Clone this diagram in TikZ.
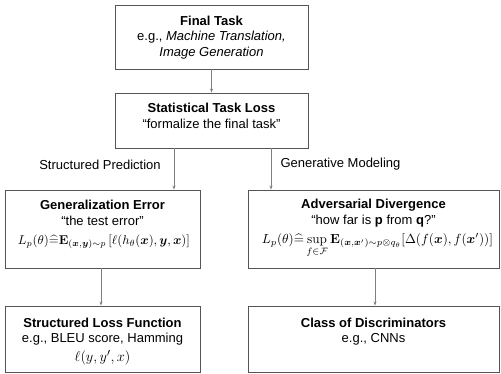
\documentclass[tikz,border=0pt]{standalone}
\usepackage{amsmath,amssymb,bm}
\usepackage[no-math]{fontspec}
\setmainfont{Liberation Sans}
\usetikzlibrary{arrows.meta}
\definecolor{boxline}{HTML}{555555}
\definecolor{arrline}{HTML}{808080}
\tikzset{
  box/.style={draw=boxline, line width=0.9pt, minimum width=#1, inner sep=0pt},
  arr/.style={draw=arrline, line width=0.6pt, -{Stealth[length=4pt,width=3pt]}},
  txt/.style={font=\fontsize{13}{15}\selectfont, inner sep=0pt, anchor=center},
  ttl/.style={font=\fontsize{13}{15}\selectfont\bfseries, inner sep=0pt, anchor=center},
  mth/.style={inner sep=0pt, anchor=center},
}
\begin{document}
\begin{tikzpicture}[x=1pt,y=-1pt]
\useasboundingbox (0,0) rectangle (501,373);
% boxes
\node[box=193pt, minimum height=64pt] (ft) at (211.5,37) {};
\node[box=193pt, minimum height=55pt] (stl) at (211.5,120.5) {};
\node[box=195pt, minimum height=78pt] (ge) at (102.5,229) {};
\node[box=251pt, minimum height=78pt] (ad) at (373.5,229) {};
\node[box=195pt, minimum height=66pt] (slf) at (102.5,339) {};
\node[box=251pt, minimum height=66pt] (cod) at (373.5,339) {};
% texts
\node[ttl] (ft1) at (211.5,21) {Final Task};
\node[txt] (ft2) at (211.5,37) {e.g., \textit{Machine Translation,}};
\node[txt] (ft3) at (211.5,53) {\textit{Image Generation}};
\node[ttl] (stl1) at (211.5,108) {Statistical Task Loss};
\node[txt] (stl2) at (211.5,124) {``formalize the final task''};
\node[txt] (sp) at (100,165) {Structured Prediction};
\node[txt] (gm) at (340.5,164.5) {Generative Modeling};
\node[ttl] (ge1) at (102.5,205) {Generalization Error};
\node[txt] (ge2) at (102.5,221) {``the test error''};
\node[mth] (ge3) at (104,242) {\resizebox{172pt}{!}{$L_p(\theta)\widehat{=}\mathbf{E}_{(\bm{x},\bm{y})\sim p}\left[\ell(h_\theta(\bm{x}),\bm{y},\bm{x})\right]$}};
\node[ttl] (ad1) at (373.5,205) {Adversarial Divergence};
\node[txt] (ad2) at (373.5,221) {``how far is \textbf{p} from \textbf{q}?''};
\node[mth, anchor=north] (ad3) at (377.5,233.5) {\resizebox{231pt}{!}{$L_p(\theta)\widehat{=}\sup\limits_{f\in\mathcal{F}}\mathbf{E}_{(\bm{x},\bm{x}')\sim p\otimes q_\theta}[\Delta(f(\bm{x}),f(\bm{x}'))]$}};
\node[ttl] (slf1) at (102.5,323) {Structured Loss Function};
\node[txt] (slf2) at (102.5,339) {e.g., BLEU score, Hamming};
\node[mth] (slf3) at (102.5,358) {\fontsize{15}{17}\selectfont$\ell(y,y',x)$};
\node[ttl] (cod1) at (373.5,323) {Class of Discriminators};
\node[txt] (cod2) at (373.5,339) {e.g., CNNs};
% arrows
\draw[arr] (ft.south) -- (stl.north);
\draw[arr] ([xshift=-37.5pt]stl.south) -- ([xshift=-37.5pt]stl.south |- ge.north);
\draw[arr] ([xshift=59.5pt]stl.south) -- ([xshift=59.5pt]stl.south |- ad.north);
\draw[arr] ([xshift=-1.5pt]ge.south) -- ([xshift=-1.5pt]slf.north);
\draw[arr] ([xshift=1.5pt]ad.south) -- ([xshift=1.5pt]cod.north);
\end{tikzpicture}
\end{document}
